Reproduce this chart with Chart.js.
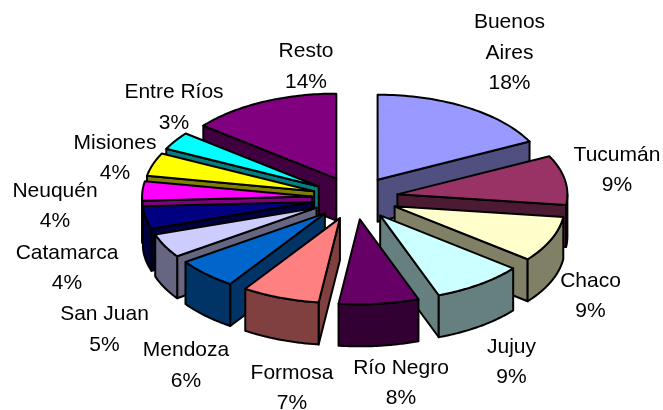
<!DOCTYPE html>
<html><head><meta charset="utf-8">
<style>html,body{margin:0;padding:0;background:#fff}#w{width:663px;height:410px}</style>
<script src="https://cdn.jsdelivr.net/npm/chart.js@4/dist/chart.umd.min.js"></script>
</head><body><div id="w"><canvas id="c" width="663" height="410"></canvas></div>
<script>
const categories = ["Buenos Aires","Tucumán","Chaco","Jujuy","Río Negro","Formosa","Mendoza","San Juan","Catamarca","Neuquén","Misiones","Entre Ríos","Resto"];
const labelLines = [["Buenos","Aires"],["Tucumán"],["Chaco"],["Jujuy"],["Río Negro"],["Formosa"],["Mendoza"],["San Juan"],["Catamarca"],["Neuquén"],["Misiones"],["Entre Ríos"],["Resto"]];
const values = [17.6,9.4,8.7,8.7,7.6,7.4,5.9,4.6,4.3,3.7,4.4,3.4,14.3];
const topColors = ["#9999FF","#993366","#FFFFCC","#CCFFFF","#660066","#FF8080","#0066CC","#CCCCFF","#000080","#FF00FF","#FFFF00","#00FFFF","#800080"];
const sideColors = ["#505080","#4D1A33","#808066","#668080","#330033","#804040","#003366","#666680","#000040","#800080","#808000","#008080","#400040"];

const pie3d = {
  id:'pie3d',
  beforeDatasetsDraw(chart){
    const SQUASH = 0.5, DEPTH = 42, LINE = 30.5;
    const textX = [509.5,617,590.5,511.5,401,292,186,104.5,67,55,115,174,306];
    const textY = [53,170,296,362,383,388,365.5,329.5,268,206,158,107.5,66.5];
    const ctx = chart.ctx;
    const arcs = chart.getDatasetMeta(0).data.map((a,i)=>({a,i,mid:(a.startAngle+a.endAngle)/2}));
    arcs.sort((p,q)=>Math.sin(p.mid)-Math.sin(q.mid));
    ctx.save();
    ctx.lineWidth = 2; ctx.lineJoin='round'; ctx.strokeStyle='#000';
    for(const {a,i,mid} of arcs){
      const off = (a.options.offset||0)/4, R=a.outerRadius;
      const ox = a.x+Math.cos(mid)*off, oy = a.y+Math.sin(mid)*off*SQUASH;
      const P = t=>[ox+Math.cos(t)*R, oy+Math.sin(t)*R*SQUASH];
      const poly=(pts,fill)=>{ctx.beginPath();pts.forEach((p,n)=>n?ctx.lineTo(p[0],p[1]):ctx.moveTo(p[0],p[1]));ctx.closePath();ctx.fillStyle=fill;ctx.fill();ctx.stroke();};
      const down=p=>[p[0],p[1]+DEPTH];
      const N=48, rim=[];
      for(let n=0;n<=N;n++) rim.push(P(a.startAngle+(a.endAngle-a.startAngle)*n/N));
      const A=[ox,oy], S=rim[0], E=rim[N];
      if(A[0]>S[0]) poly([A,S,down(S),down(A)],sideColors[i]);
      if(E[0]>A[0]) poly([E,A,down(A),down(E)],sideColors[i]);
      const wall=[];
      for(let n=0;n<N;n++){ if(rim[n+1][0]<rim[n][0]){ if(!wall.length) wall.push(rim[n]); wall.push(rim[n+1]); } }
      if(wall.length>1) poly([...wall,...wall.slice().reverse().map(down)],sideColors[i]);
      poly([A,...rim],topColors[i]);
    }
    ctx.font='21px "Liberation Sans"'; ctx.fillStyle='#000'; ctx.textAlign='center'; ctx.textBaseline='middle';
    const total=values.reduce((s,v)=>s+v,0);
    categories.forEach((c,i)=>{
      const lines=[...labelLines[i], Math.round(values[i]/total*100)+'%'];
      lines.forEach((l,n)=>ctx.fillText(l,textX[i],textY[i]+(n-(lines.length-1)/2)*LINE));
    });
    ctx.restore();
    return false;
  }
};
new Chart(document.getElementById('c'),{
  type:'pie',
  data:{labels:categories,datasets:[{data:values,backgroundColor:topColors,borderWidth:0,offset:172}]},
  options:{responsive:false,animation:false,radius:170,rotation:0,
    layout:{padding:{left:47,bottom:14}},
    plugins:{legend:{display:false},tooltip:{enabled:false}}},
  plugins:[pie3d]
});
</script></body></html>
